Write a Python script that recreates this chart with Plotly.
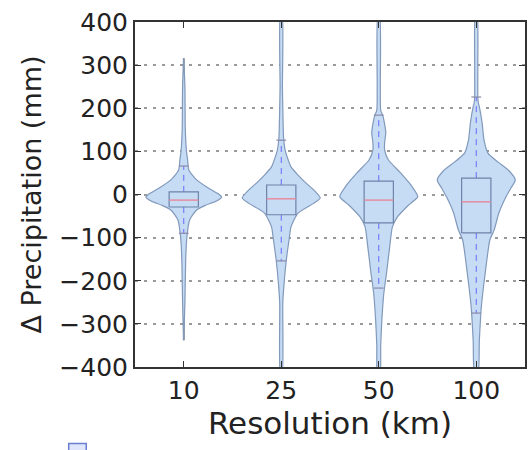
import plotly.graph_objects as go

# ---------------- data ----------------
categories = ["10", "25", "50", "100"]

# violin outlines: levels (mm) and relative half-width (density, 1 = widest)
v10_levels = [316, 250, 150, 100, 80, 57, 34, 15, 0, -6, -15, -25, -36, -59, -99, -150, -250, -338]
v10_width = [0.0, 0.03, 0.04, 0.07, 0.10, 0.13, 0.33, 0.63, 0.91, 0.97, 0.84, 0.56, 0.33, 0.15, 0.08, 0.05, 0.03, 0.0]

v25_levels = [420, 250, 200, 131, 103, 80, 64, 45, 27, 10, -8, -20, -43, -75, -105, -152, -198, -250, -420]
v25_width = [0.02, 0.03, 0.04, 0.06, 0.10, 0.18, 0.25, 0.43, 0.63, 0.84, 1.0, 0.84, 0.43, 0.25, 0.20, 0.13, 0.08, 0.04, 0.02]

v50_levels = [420, 250, 195, 184, 173, 143, 120, 103, 80, 50, 20, -5, -25, -52, -75, -122, -182, -229, -291, -350, -420]
v50_width = [0.02, 0.04, 0.05, 0.10, 0.13, 0.18, 0.15, 0.15, 0.25, 0.56, 0.84, 1.0, 0.76, 0.48, 0.35, 0.28, 0.20, 0.13, 0.08, 0.05, 0.03]

v100_levels = [420, 300, 230, 214, 203, 166, 126, 96, 75, 55, 34, 15, -6, -43, -82, -105, -182, -261, -337, -420]
v100_width = [0.02, 0.04, 0.04, 0.05, 0.08, 0.15, 0.20, 0.30, 0.56, 0.84, 1.0, 0.89, 0.76, 0.58, 0.46, 0.35, 0.23, 0.13, 0.08, 0.04]

# box-plot statistics
q1 = [-29, -47, -66, -89]
median = [-13, -10, -13, -17]
q3 = [6, 22, 31, 38]
whisker_low = [-90, -154, -217, -275]
whisker_high = [66, 126, 184, 226]
data_min = [-338, -450, -450, -450]
data_max = [316, 450, 450, 450]

y_ticks = [400, 300, 200, 100, 0, -100, -200, -300, -400]

# ---------------- styling ----------------
FONT = "DejaVu Sans"
MAX_HALF = 0.40   # widest half-width of a violin in category units
BOX_HALF = 0.15
CAP_HALF = 0.05
FILL = "#c6dbf4"
EDGE = "#8199bb"
BOX_EDGE = "#6d84a8"
WHISK = "#6a6aff"
MED = "#e8879b"
EXT = "#7a7a7a"

profiles = [
    (v10_levels, v10_width),
    (v25_levels, v25_width),
    (v50_levels, v50_width),
    (v100_levels, v100_width),
]

fig = go.Figure()

for i, (levels, widths) in enumerate(profiles):
    c = i + 1
    # extrema line (min to max)
    fig.add_trace(go.Scatter(x=[c, c], y=[data_min[i], data_max[i]], mode="lines",
                             line=dict(color=EXT, width=1.8), hoverinfo="skip", showlegend=False))
    # violin body
    xs = [c - w * MAX_HALF for w in widths] + [c + w * MAX_HALF for w in reversed(widths)]
    ys = list(levels) + list(reversed(levels))
    xs.append(xs[0]); ys.append(ys[0])
    fig.add_trace(go.Scatter(x=xs, y=ys, mode="lines", fill="toself", fillcolor=FILL,
                             line=dict(color=EDGE, width=1.2, shape="spline", smoothing=0.6),
                             hoverinfo="skip", showlegend=False))
    # whiskers
    fig.add_trace(go.Scatter(x=[c, c], y=[q3[i], whisker_high[i]], mode="lines",
                             line=dict(color=WHISK, width=1, dash="6px,5px"), hoverinfo="skip", showlegend=False))
    fig.add_trace(go.Scatter(x=[c, c], y=[q1[i], whisker_low[i]], mode="lines",
                             line=dict(color=WHISK, width=1, dash="6px,5px"), hoverinfo="skip", showlegend=False))
    # caps
    for yy in (whisker_high[i], whisker_low[i]):
        fig.add_trace(go.Scatter(x=[c - CAP_HALF, c + CAP_HALF], y=[yy, yy], mode="lines",
                                 line=dict(color="#8a8aa8", width=1.2), hoverinfo="skip", showlegend=False))
    # box
    fig.add_trace(go.Scatter(x=[c - BOX_HALF, c + BOX_HALF, c + BOX_HALF, c - BOX_HALF, c - BOX_HALF],
                             y=[q1[i], q1[i], q3[i], q3[i], q1[i]], mode="lines",
                             line=dict(color=BOX_EDGE, width=1.2), hoverinfo="skip", showlegend=False))
    # median
    fig.add_trace(go.Scatter(x=[c - BOX_HALF, c + BOX_HALF], y=[median[i], median[i]], mode="lines",
                             line=dict(color=MED, width=1.4), hoverinfo="skip", showlegend=False))

fig.update_layout(
    width=528, height=450,
    margin=dict(l=135, r=1, t=22, b=83),
    paper_bgcolor="white", plot_bgcolor="white",
    font=dict(family=FONT, color="#222222"),
    showlegend=False,
    xaxis=dict(
        range=[0.5, 4.5], tickmode="array", tickvals=[1, 2, 3, 4], ticktext=categories,
        ticks="inside", ticklen=6, tickcolor="#333", mirror="ticks",
        showline=True, linecolor="#333", linewidth=2, showgrid=False, zeroline=False,
        tickfont=dict(size=25, family=FONT),
        title=dict(text="Resolution (km)", font=dict(size=31, family=FONT), standoff=6),
    ),
    yaxis=dict(
        range=[-400, 400], tickmode="array", tickvals=y_ticks,
        ticks="inside", ticklen=6, tickcolor="#333", mirror="ticks",
        showline=True, linecolor="#333", linewidth=2,
        showgrid=True, gridcolor="#9a9a9a", griddash="3px,6px", gridwidth=1.8, zeroline=False,
        tickfont=dict(size=25, family=FONT),
        title=dict(text="Δ Precipitation (mm)", font=dict(size=27, family=FONT), standoff=10),
    ),
    shapes=[dict(type="rect", xref="paper", yref="paper", x0=-0.17, x1=-0.125, y0=-0.222, y1=-0.26,
                 line=dict(color="#6a7fd0", width=1.5), fillcolor="#dfe6fb")],
)

fig.write_html("out.html")
